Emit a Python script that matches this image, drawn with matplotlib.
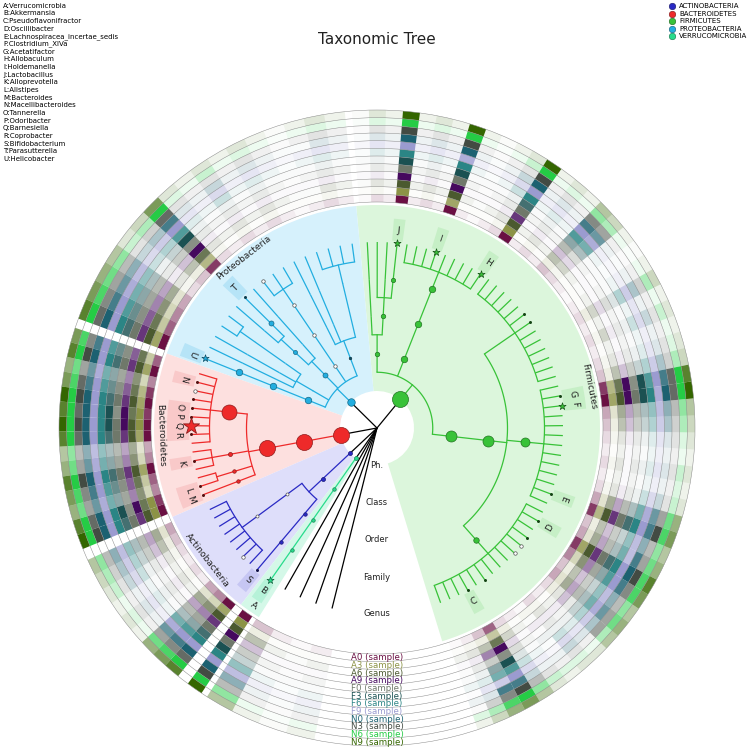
import numpy as np
import matplotlib
matplotlib.use("Agg")
import matplotlib.pyplot as plt
from matplotlib.patches import Wedge, Circle
from matplotlib.colors import to_rgb

#************************************** TAXA **************************************
# (class, order, family, genera) per phylum, genera listed counter-clockwise
firmicutes = [
    ("Clostridia", "Clostridiales", "Ruminococcaceae",
     ["Anaerotruncus", "Butyricicoccus", "Ruminococcus", "Pseudoflavonifractor", "Faecalibacterium",
      "Flavonifractor", "Intestinimonas", "Oscillospira", "Subdoligranulum", "Anaerofilum",
      "Ethanoligenens", "Acetanaerobacterium", "Sporobacter", "Oscillibacter", "Papillibacter"]),
    ("Clostridia", "Clostridiales", "Lachnospiraceae",
     ["Roseburia", "Lachnospiracea_incertae_sedis", "Blautia", "Coprococcus", "Dorea",
      "Marvinbryantia", "Anaerostipes", "Robinsoniella", "Moryella", "Syntrophococcus",
      "Clostridium_XlVa", "Acetatifactor", "Butyrivibrio"]),
    ("Clostridia", "Clostridiales", "Clostridiaceae",
     ["Clostridium_sensu_stricto", "Sarcina", "Clostridium_XI", "Romboutsia", "Intestinibacter",
      "Terrisporobacter", "Anaerococcus", "Peptoniphilus", "Finegoldia", "Eubacterium",
      "Anaerovorax", "Mogibacterium", "Alkaliphilus"]),
    ("Erysipelotrichia", "Erysipelotrichales", "Erysipelotrichaceae",
     ["Allobaculum", "Turicibacter", "Coprobacillus", "Faecalitalea", "Dubosiella",
      "Holdemanella", "Faecalibaculum", "Holdemania", "Erysipelotrichaceae_incertae_sedis"]),
    ("Bacilli", "Lactobacillales", "Lactobacillaceae", ["Lactobacillus"]),
    ("Bacilli", "Lactobacillales", "Streptococcaceae", ["Lactococcus"]),
    ("Bacilli", "Lactobacillales", "Enterococcaceae", ["Enterococcus"]),
    ("Bacilli", "Bacillales", "Staphylococcaceae", ["Staphylococcus"]),
]

proteobacteria = [
    ("Gammaproteobacteria", "Enterobacteriales", "Enterobacteriaceae",
     ["Escherichia_Shigella", "Klebsiella", "Enterobacter", "Proteus"]),
    ("Gammaproteobacteria", "Pasteurellales", "Pasteurellaceae", ["Haemophilus"]),
    ("Gammaproteobacteria", "Pseudomonadales", "Moraxellaceae", ["Acinetobacter"]),
    ("Alphaproteobacteria", "Rhodospirillales", "Rhodospirillaceae",
     ["Azospirillum", "Thalassospira", "Insolitispirillum"]),
    ("Betaproteobacteria", "Rhodocyclales", "Rhodocyclaceae", ["Thauera"]),
    ("Betaproteobacteria", "Burkholderiales", "Sutterellaceae", ["Parasutterella"]),
    ("Betaproteobacteria", "Burkholderiales", "Alcaligenaceae", ["Alcaligenes"]),
    ("Deltaproteobacteria", "Desulfovibrionales", "Desulfovibrionaceae", ["Desulfovibrio", "Bilophila"]),
    ("Deltaproteobacteria", "Myxococcales", "Cystobacteraceae", ["Cystobacter"]),
    ("Deltaproteobacteria", "Desulfuromonadales", "Geobacteraceae", ["Geobacter"]),
    ("Epsilonproteobacteria", "Campylobacterales", "Helicobacteraceae", ["Helicobacter"]),
]

bacteroidetes = [
    ("Bacteroidia", "Bacteroidales", "Porphyromonadaceae",
     ["Parabacteroides", "Macellibacteroides", "Butyricimonas", "Dysgonomonas", "Tannerella",
      "Odoribacter", "Barnesiella", "Coprobacter", "Paludibacter"]),
    ("Bacteroidia", "Bacteroidales", "Prevotellaceae", ["Prevotella", "Alloprevotella", "Paraprevotella"]),
    ("Bacteroidia", "Bacteroidales", "Rikenellaceae", ["Rikenella", "Alistipes"]),
    ("Bacteroidia", "Bacteroidales", "Bacteroidaceae", ["Bacteroides"]),
]

actinobacteria = [
    ("Actinobacteria", "Coriobacteriales", "Coriobacteriaceae",
     ["Enterorhabdus", "Adlercreutzia", "Asaccharobacter", "Olsenella", "Collinsella",
      "Eggerthella", "Gordonibacter", "Slackia"]),
    ("Actinobacteria", "Bifidobacteriales", "Bifidobacteriaceae", ["Bifidobacterium"]),
]

verrucomicrobia = [
    ("Verrucomicrobiae", "Verrucomicrobiales", "Verrucomicrobiaceae", ["Akkermansia"]),
]

unclassified = ["unclassified_1", "unclassified_2", "unclassified_3", "unclassified_4"]

#************************************** HEATMAP **************************************
# one digit per ring (A0 ... N9, inside -> outside), 0 = empty, 9 = full colour
firmicutes_heat = [
    "112111212132", "223232343454", "435656768786", "768989898997", "334343454565",
    "212121232343", "121212122232", "323232454333", "212222343223", "333434565655",
    "546565787676", "435454676565", "657676898787", "889898999988", "546565778676",
    "435454676565", "879898998987", "546565787676", "323232454343", "212121232232",
    "323132343343", "212121232222", "323232343333", "435454565454", "546565676565",
    "989999989899", "878989898898", "435454565454",
    "323232343333", "212121232222", "324232454343", "212121242222", "334343565454",
    "212121232222", "111111121111", "212121232222", "324345787654", "435466898765",
    "212121232222", "323232343333", "212121232222",
    "999898999999", "323232454343", "212121232222", "111111121111", "212121232222",
    "989999989999", "212121232222", "323232343333", "212121232222",
    "999999999999", "212121232222", "323232343333", "111111121111",
]
proteobacteria_heat = [
    "212121232222", "323232343333", "211121231222", "111111121111", "212121232222",
    "323232343333", "212121232222", "323232454343", "212121232222", "323232343333",
    "878989898897", "435454565454", "323232454343", "546565676565", "657676787676",
    "768787898787", "989898999898",
]
bacteroidetes_heat = [
    "768787898787", "989898999998", "657676787676", "878787898887", "989898999999",
    "898989999898", "999999999999", "989898999898", "546565676565", "657676787676",
    "989898999998", "768787898787", "657676787676", "898989999898", "999898999999",
]
actinobacteria_heat = [
    "546565676565", "435454565454", "323232454343", "212121232222", "323232343333",
    "212121232222", "546565787676", "657676898787", "989898999898",
]
verrucomicrobia_heat = ["999999999999"]
unclassified_heat = ["435454676565", "212121232222", "111111121111", "212121232222"]

samples = ["A0", "A3", "A6", "A9", "F0", "F3", "F6", "F9", "N0", "N3", "N6", "N9"]
ring_colors = ["#6a1043", "#8c9346", "#4b5a2f", "#45095e", "#6f786a", "#1b5152",
               "#2b8585", "#9b9bd0", "#1c6171", "#434b43", "#25cc45", "#346600"]

# letters used on the tree, A, B, C ... in this order
letter_names = ["Verrucomicrobia", "Akkermansia", "Pseudoflavonifractor", "Oscillibacter",
                "Lachnospiracea_incertae_sedis", "Clostridium_XlVa", "Acetatifactor", "Allobaculum",
                "Holdemanella", "Lactobacillus", "Alloprevotella", "Alistipes", "Bacteroides",
                "Macellibacteroides", "Tannerella", "Odoribacter", "Barnesiella", "Coprobacter",
                "Bifidobacterium", "Parasutterella", "Helicobacter"]

level_names = ["Ph.", "Class", "Order", "Family", "Genus"]

# node circle diameters (px), by taxon name
node_size = {
    "Firmicutes": 16, "Clostridia": 11, "Clostridiales": 11, "Lachnospiraceae": 9,
    "Ruminococcaceae": 5.5, "Erysipelotrichia": 6.5, "Erysipelotrichales": 6.5,
    "Erysipelotrichaceae": 6.5, "Bacilli": 4.5, "Lactobacillales": 4.5, "Lactobacillaceae": 4.3,
    "Proteobacteria": 7.5, "Epsilonproteobacteria": 6.5, "Campylobacterales": 6.5,
    "Helicobacteraceae": 6.5, "Betaproteobacteria": 5, "Burkholderiales": 4, "Sutterellaceae": 5,
    "Alphaproteobacteria": 3.5, "Rhodospirillales": 3.5, "Rhodospirillaceae": 3.5,
    "Gammaproteobacteria": 2.5,
    "Bacteroidetes": 16, "Bacteroidia": 16, "Bacteroidales": 16, "Porphyromonadaceae": 15,
    "Prevotellaceae": 4, "Rikenellaceae": 3.5, "Bacteroidaceae": 3.5,
    "Actinobacteria": 4, "Coriobacteriales": 3, "Coriobacteriaceae": 3,
    "Bifidobacteriales": 3.5, "Bifidobacteriaceae": 3.5,
    "Verrucomicrobia": 4, "Verrucomicrobiae": 3.5, "Verrucomicrobiales": 3.5, "Verrucomicrobiaceae": 3.5,
}
white_nodes = ["Alphaproteobacteria", "Rhodospirillales", "Rhodospirillaceae",
               "Coriobacteriales", "Coriobacteriaceae"]
dark_nodes = ["Gammaproteobacteria"]

leaf_mark = {
    "Pseudoflavonifractor": "dot", "Flavonifractor": "dot", "Anaerofilum": "white",
    "Ethanoligenens": "white", "Acetanaerobacterium": "dot", "Oscillibacter": "dot",
    "Lachnospiracea_incertae_sedis": "dot", "Clostridium_XlVa": "star", "Acetatifactor": "dot",
    "Anaerococcus": "dot", "Peptoniphilus": "dot",
    "Allobaculum": "star", "Holdemanella": "star", "Lactobacillus": "star",
    "Insolitispirillum": "white", "Parasutterella": "dot", "Helicobacter": "star",
    "Macellibacteroides": "dot", "Butyricimonas": "white", "Dysgonomonas": "dot",
    "Tannerella": "dot", "Odoribacter": "dot", "Barnesiella": "bigstar", "Coprobacter": "dot",
    "Alloprevotella": "dot", "Alistipes": "dot", "Bacteroides": "dot",
    "Gordonibacter": "white", "Bifidobacterium": "dot", "Akkermansia": "star",
}

#************************************** STYLE / LAYOUT **************************************
phyla = ["Firmicutes", "Proteobacteria", "Bacteroidetes", "Actinobacteria", "Verrucomicrobia"]
taxa = {"Firmicutes": firmicutes, "Proteobacteria": proteobacteria, "Bacteroidetes": bacteroidetes,
        "Actinobacteria": actinobacteria, "Verrucomicrobia": verrucomicrobia}
heat = {"Firmicutes": firmicutes_heat, "Proteobacteria": proteobacteria_heat,
        "Bacteroidetes": bacteroidetes_heat, "Actinobacteria": actinobacteria_heat,
        "Verrucomicrobia": verrucomicrobia_heat, "unclassified": unclassified_heat}
# angle of first and last leaf (degrees, counter-clockwise from east)
leaf_span = {"Firmicutes": (-70, 93), "Proteobacteria": (97.7, 158), "Bacteroidetes": (163, 201),
             "Actinobacteria": (206, 229.8), "Verrucomicrobia": (235, 235), "unclassified": (240.3, 256)}

line_col = {"Firmicutes": "#38c238", "Proteobacteria": "#22aee0", "Bacteroidetes": "#ee2a2a",
            "Actinobacteria": "#2a2ac4", "Verrucomicrobia": "#28dc8c"}
shade_col = {"Firmicutes": "#dcf6dc", "Proteobacteria": "#d6f1fc", "Bacteroidetes": "#fde0df",
             "Actinobacteria": "#dedefa", "Verrucomicrobia": "#d4f8e8"}
box_col = {"Firmicutes": "#c6efc6", "Proteobacteria": "#b6e4f7", "Bacteroidetes": "#f9c9c9",
           "Actinobacteria": "#c6c6f3", "Verrucomicrobia": "#b6f2d8"}

W, H = 755, 752
CX, CY = 377, H - 428
LEVEL_R = [0, 37, 74.5, 112, 149, 186]
SHADE_OUT = 223
BOX_IN, BOX_OUT = 188, 210
RING_IN, RING_OUT = 226, 318
RW = (RING_OUT - RING_IN) / len(samples)
PX = 0.72  # points per pixel at 100 dpi


def pol(r, a):
    t = np.deg2rad(a)
    return CX + r * np.cos(t), CY + r * np.sin(t)


def darker(c, f):
    return tuple(np.array(to_rgb(c)) * f)


def text_rot(a):
    a = a % 360
    return a + 90 if 150 < a < 330 else a - 90


#************************************** BUILD TREE **************************************
root = {"name": "root", "r": 0.0, "kids": {}, "phylum": None}
leaves = []


def add_leaf(parts, phylum, angle, h, width):
    node = root
    for depth, name in enumerate(parts, start=1):
        if name not in node["kids"]:
            node["kids"][name] = {"name": name, "r": LEVEL_R[depth], "kids": {}, "phylum": phylum}
        node = node["kids"][name]
    node["r"] = LEVEL_R[-1]
    node["angle"] = angle
    node["heat"] = h
    node["width"] = width
    leaves.append(node)


for phylum in phyla + ["unclassified"]:
    if phylum == "unclassified":
        paths = [[g] for g in unclassified]
    else:
        paths = [[phylum, c, o, f, g] for c, o, f, gens in taxa[phylum] for g in gens]
    a0, a1 = leaf_span[phylum]
    n = len(paths)
    step = (a1 - a0) / (n - 1) if n > 1 else 3.0
    for k, p in enumerate(paths):
        add_leaf(p, phylum, a0 + k * step, heat[phylum][k], step)


def set_angle(node):
    if node["kids"]:
        node["angle"] = np.mean([set_angle(k) for k in node["kids"].values()])
    return node["angle"]


set_angle(root)

#************************************** PLOT **************************************
fig = plt.figure(figsize=(W / 100, H / 100), dpi=100)
ax = fig.add_axes([0, 0, 1, 1])
ax.set_xlim(0, W)
ax.set_ylim(0, H)
ax.axis("off")

# clade background sectors
for i, phylum in enumerate(phyla):
    first = leaf_span[phylum][0]
    last = leaf_span[phylum][1]
    lo = (leaf_span[phyla[i - 1]][1] + first) / 2 if i > 0 else first - 3
    hi = (last + leaf_span[phyla[i + 1]][0]) / 2 if i < len(phyla) - 1 else last + 3
    ax.add_patch(Wedge((CX, CY), SHADE_OUT, lo, hi, width=SHADE_OUT - LEVEL_R[1],
                       facecolor=shade_col[phylum], lw=0, zorder=1))
    mid = (lo + hi) / 2
    label = chr(65 + letter_names.index(phylum)) if phylum in letter_names else phylum
    x, y = pol(216, mid)
    ax.text(x, y, label, rotation=text_rot(mid), rotation_mode="anchor", ha="center", va="center",
            fontsize=6.5, color="#222222", zorder=6)

# heatmap rings
for leaf in leaves:
    a, w = leaf["angle"], leaf["width"]
    for i, d in enumerate(leaf["heat"]):
        if int(d) > 0:
            ax.add_patch(Wedge((CX, CY), RING_IN + (i + 1) * RW, a - w / 2, a + w / 2, width=RW,
                               facecolor=ring_colors[i], alpha=(int(d) / 9) ** 1.7, lw=0, zorder=2))
for i in range(len(samples) + 1):
    ax.add_patch(Circle((CX, CY), RING_IN + i * RW, fill=False, ec="#8a8a8a", lw=0.35, zorder=3))
for i, s in enumerate(samples):
    ax.text(CX, CY - (RING_IN + (i + 0.5) * RW), f"{s} (sample)", color=ring_colors[i],
            ha="center", va="center", fontsize=6.2, zorder=6)

# branches
def draw_branches(node):
    kids = list(node["kids"].values())
    if not kids:
        return
    col = "black" if node is root else line_col[node["phylum"]]
    rp = node["r"]
    rc = kids[0]["r"]
    if node is root or len(kids) == 1:
        for k in kids:
            xs, ys = pol(np.array([rp, k["r"]]), k["angle"])
            ax.plot(xs, ys, color=col, lw=0.9, zorder=4, solid_capstyle="butt")
    else:
        rb = rp + 0.5 * (rc - rp)
        xs, ys = pol(np.array([rp, rb]), node["angle"])
        ax.plot(xs, ys, color=col, lw=0.9, zorder=4)
        angs = [k["angle"] for k in kids]
        arc = np.linspace(min(angs), max(angs), 60)
        xs, ys = pol(rb, arc)
        ax.plot(xs, ys, color=col, lw=0.9, zorder=4)
        for k in kids:
            xs, ys = pol(np.array([rb, k["r"]]), k["angle"])
            ax.plot(xs, ys, color=col, lw=0.9, zorder=4, solid_capstyle="butt")
    for k in kids:
        draw_branches(k)


draw_branches(root)

# internal node circles
def draw_nodes(node):
    for k in node["kids"].values():
        if k["name"] in node_size and k["kids"]:
            x, y = pol(k["r"], k["angle"])
            c = line_col[k["phylum"]]
            if k["name"] in white_nodes:
                fc, ec = "white", "#555555"
            elif k["name"] in dark_nodes:
                fc, ec = darker(c, 0.45), darker(c, 0.3)
            else:
                fc, ec = c, darker(c, 0.6)
            ax.scatter([x], [y], s=(node_size[k["name"]] * PX) ** 2, facecolor=fc,
                       edgecolor=ec, lw=0.5, zorder=5)
        draw_nodes(k)


draw_nodes(root)

# leaf markers and letters
for leaf in leaves:
    name, a, ph = leaf["name"], leaf["angle"], leaf["phylum"]
    x, y = pol(LEVEL_R[-1], a)
    m = leaf_mark.get(name)
    if m == "dot":
        ax.scatter([x], [y], s=(3 * PX) ** 2, color=darker(line_col[ph], 0.35), lw=0, zorder=5)
    elif m == "white":
        ax.scatter([x], [y], s=(3.5 * PX) ** 2, facecolor="white", edgecolor="#555555", lw=0.5, zorder=5)
    elif m == "star":
        ax.scatter([x], [y], marker="*", s=(7.5 * PX) ** 2, facecolor=line_col[ph],
                   edgecolor=darker(line_col[ph], 0.45), lw=0.5, zorder=5)
    elif m == "bigstar":
        ax.scatter([x], [y], marker="*", s=(17 * PX) ** 2, facecolor=line_col[ph],
                   edgecolor=darker(line_col[ph], 0.6), lw=0.6, zorder=5)
    if name in letter_names:
        w = max(leaf["width"], 3.2)
        ax.add_patch(Wedge((CX, CY), BOX_OUT, a - w / 2, a + w / 2, width=BOX_OUT - BOX_IN,
                           facecolor=box_col[ph], lw=0, zorder=2))
        tx, ty = pol(199, a)
        ax.text(tx, ty, chr(65 + letter_names.index(name)), rotation=text_rot(a),
                rotation_mode="anchor", ha="center", va="center", fontsize=6.5,
                color="#222222", zorder=6)

# level labels under the centre
for d, lab in enumerate(level_names, start=1):
    ax.text(CX, CY - LEVEL_R[d], lab, ha="center", va="center", fontsize=6, color="#222222", zorder=6)

ax.text(CX, H - 40, "Taxonomic Tree", ha="center", va="center", fontsize=11, color="#222222")

# letter key, top left
for i, name in enumerate(letter_names):
    ax.text(3, H - (5.7 + 7.67 * i), f"{chr(65 + i)}:{name}", ha="left", va="center", fontsize=5)

# phylum legend, top right
for i, phylum in enumerate(sorted(phyla)):
    yy = H - (6 + 7.6 * i)
    ax.scatter([672], [yy], s=(6.5 * PX) ** 2, facecolor=line_col[phylum],
               edgecolor=darker(line_col[phylum], 0.5), lw=0.4, zorder=6)
    ax.text(679, yy, phylum.upper(), ha="left", va="center", fontsize=5)

fig.savefig("out.png", dpi=100)
